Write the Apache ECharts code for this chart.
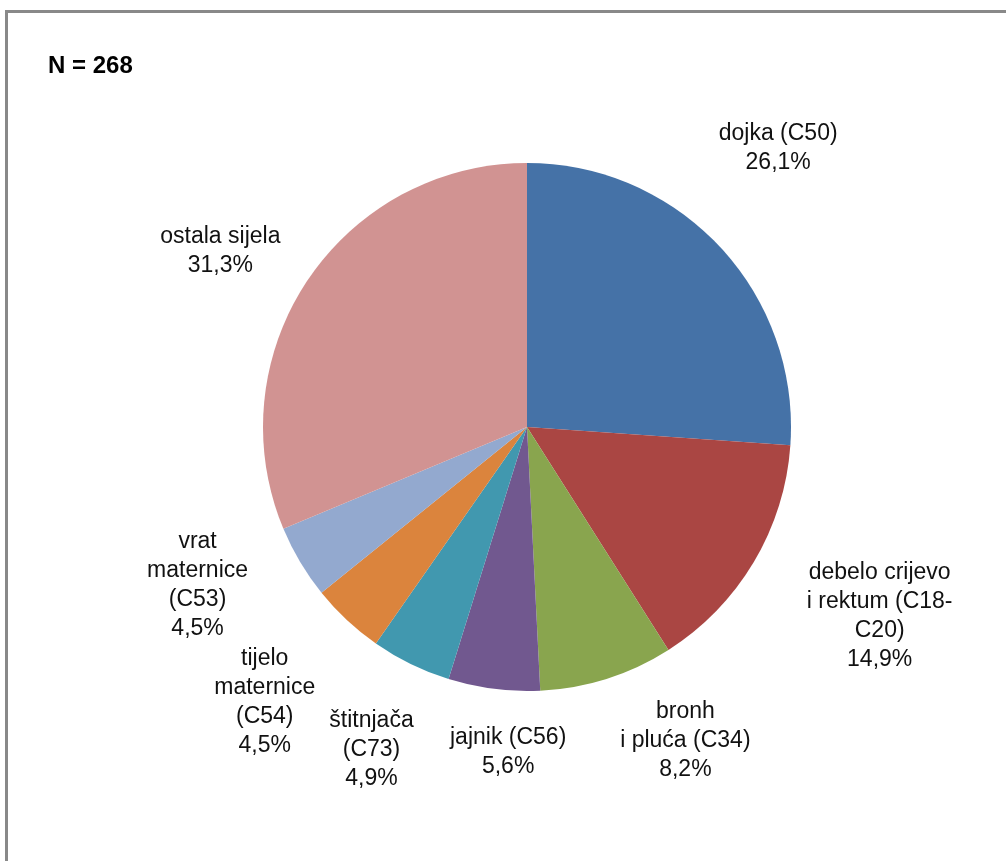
<!DOCTYPE html>
<html>
<head>
<meta charset="utf-8">
<title>Sijela</title>
<script src="https://cdn.jsdelivr.net/npm/echarts@6/dist/echarts.min.js"></script>
<style>
	html, body { margin: 0; padding: 0; background: #fff; }
	#pieChart { width: 1006px; height: 861px; }
</style>
</head>
<body>
<div id="pieChart"></div>
<script>
// podaci (postotci s grafa)
var sijela = ['dojka (C50)', 'debelo crijevo\ni rektum (C18-\nC20)', 'bronh\ni pluća (C34)', 'jajnik (C56)',
	'štitnjača\n(C73)', 'tijelo\nmaternice\n(C54)', 'vrat\nmaternice\n(C53)', 'ostala sijela'];
var postotci = [26.1, 14.9, 8.2, 5.6, 4.9, 4.5, 4.5, 31.3];
var boje = ['#4572A7', '#AA4643', '#89A54E', '#71588F', '#4198AF', '#DB843D', '#93A9CF', '#D19392'];
var ukupno = 268;

var TumorPie = {
	init: function() {
		this.chart();
	},
	chart: function() {
		var pieChart = echarts.init(document.getElementById('pieChart'));
		// [duljina od ruba, dx, dy] za svaki natpis
		var natpisi = [[111, -23, -23], [136, 9, -16], [87, 52, -21], [62, 22, 2],
			[94, 2, 1], [116, -3, -3], [102, -15, -29], [90, -12, 20]];
		var data = [];
		for(var i = 0; i < sijela.length; i++) {
			data.push({
				name: sijela[i],
				value: postotci[i],
				itemStyle: { color: boje[i] },
				labelLine: { show: false, length: natpisi[i][0], length2: 0 }
			});
		}
		var option = {
			backgroundColor: '#fff',
			animation: false,
			title: {
				text: 'N = ' + ukupno,
				left: 48,
				top: 54,
				padding: 0,
				textStyle: {
					fontFamily: 'Liberation Sans',
					fontSize: 24,
					fontWeight: 'bold',
					color: '#000'
				}
			},
			graphic: [{
				type: 'rect',
				silent: true,
				shape: { x: 6.5, y: 11.5, width: 1100, height: 1000 },
				style: { fill: 'none', stroke: '#898989', lineWidth: 3 }
			}],
			series: [{
				type: 'pie',
				center: [527, 427],
				radius: 264,
				startAngle: 90,
				clockwise: true,
				avoidLabelOverlap: false,
				itemStyle: { borderWidth: 0 },
				label: {
					show: true,
					position: 'outside',
					alignTo: 'none',
					distanceToLabelLine: 0,
					overflow: 'none',
					fontFamily: 'Liberation Sans',
					fontSize: 23,
					lineHeight: 29,
					color: '#111',
					formatter: function(p) {
						return p.name + '\n' + p.value.toFixed(1).replace('.', ',') + '%';
					}
				},
				labelLayout: function(p) {
					var n = natpisi[p.dataIndex];
					return { align: 'center', verticalAlign: 'middle', dx: n[1], dy: n[2] };
				},
				emphasis: { disabled: true },
				data: data
			}]
		};
		pieChart.setOption(option, true);
	}
};
TumorPie.init();
</script>
</body>
</html>
